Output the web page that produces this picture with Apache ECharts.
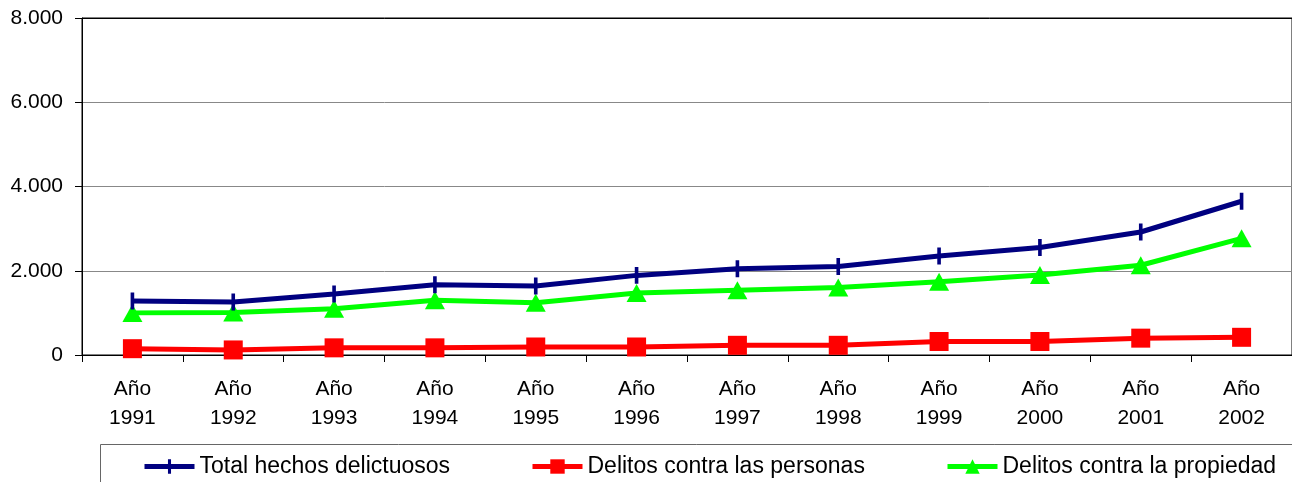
<!DOCTYPE html>
<html>
<head>
<meta charset="utf-8">
<script src="https://cdn.jsdelivr.net/npm/echarts@6/dist/echarts.min.js"></script>
<style>
html,body{margin:0;padding:0;background:#fff;}
#chart{width:1292px;height:482px;}
</style>
</head>
<body>
<div id="chart"></div>
<script>
const categories = ['Año\n1991','Año\n1992','Año\n1993','Año\n1994','Año\n1995','Año\n1996','Año\n1997','Año\n1998','Año\n1999','Año\n2000','Año\n2001','Año\n2002'];
const seriesNames = ['Total hechos delictuosos','Delitos contra las personas','Delitos contra la propiedad'];
const totalHechos = [1280, 1260, 1450, 1670, 1640, 1890, 2050, 2100, 2350, 2550, 2920, 3650];
const contraPersonas = [150, 120, 170, 170, 190, 190, 230, 230, 320, 320, 400, 420];
const contraPropiedad = [1000, 1010, 1100, 1300, 1240, 1470, 1540, 1600, 1740, 1900, 2130, 2770];
const yTicks = {min: 0, max: 8000, interval: 2000};

const FONT = '"Liberation Sans", Arial, sans-serif';
const fmt = v => String(v).replace(/\B(?=(\d{3})+(?!\d))/g, '.');
const BAR = 'path://M0,0L0.01,0L0.01,0.01Z M16,16L16.01,16L16.01,16.01Z M6.3,0h3.4v16h-3.4z';

const chart = echarts.init(document.getElementById('chart'), null, {renderer: 'canvas'});
const legendCommon = {
  top: 455, padding: 0, itemWidth: 50, itemHeight: 18, itemGap: 5,
  lineStyle: {width: 5},
  textStyle: {fontFamily: FONT, fontSize: 23, color: '#000', lineHeight: 23, padding: [0,0,0,0]}
};
chart.setOption({
  animation: false,
  backgroundColor: '#fff',
  grid: {left: 82, top: 18, width: 1217, height: 337, show: true, borderColor: '#000', borderWidth: 1, backgroundColor: 'transparent'},
  legend: [
    Object.assign({left: 142, data: [seriesNames[0]]}, legendCommon),
    Object.assign({left: 530, data: [seriesNames[1]]}, legendCommon),
    Object.assign({left: 945, data: [seriesNames[2]]}, legendCommon)
  ],
  graphic: [{
    type: 'rect', silent: true,
    shape: {x: 100.5, y: 444.5, width: 1300, height: 60},
    style: {fill: 'none', stroke: '#666', lineWidth: 1}
  }],
  xAxis: {
    type: 'category', data: categories, boundaryGap: true,
    axisLine: {lineStyle: {color: '#000', width: 1}},
    axisTick: {show: true, length: 7, lineStyle: {color: '#000'}},
    axisLabel: {fontFamily: FONT, fontSize: 21, color: '#000', lineHeight: 29, margin: 20, interval: 0}
  },
  yAxis: {
    type: 'value', min: yTicks.min, max: yTicks.max, interval: yTicks.interval,
    axisLine: {show: true, lineStyle: {color: '#000', width: 1}},
    axisTick: {show: true, length: 7, lineStyle: {color: '#000'}},
    axisLabel: {fontFamily: FONT, fontSize: 21, color: '#000', margin: 19, formatter: fmt},
    splitLine: {show: true, lineStyle: {color: ['#888','#888','#888','#888','#000'], width: 1}}
  },
  series: [
    {
      name: seriesNames[0], type: 'line', data: totalHechos,
      symbol: BAR, symbolSize: 17,
      itemStyle: {color: '#000080'},
      lineStyle: {color: '#000080', width: 5}, z: 3
    },
    {
      name: seriesNames[1], type: 'line', data: contraPersonas,
      symbol: 'rect', symbolSize: 19,
      itemStyle: {color: '#FF0000'},
      lineStyle: {color: '#FF0000', width: 5}, z: 2
    },
    {
      name: seriesNames[2], type: 'line', data: contraPropiedad,
      symbol: 'triangle', symbolSize: [20, 18],
      itemStyle: {color: '#00FF00'},
      lineStyle: {color: '#00FF00', width: 5}, z: 2
    }
  ]
});
</script>
</body>
</html>
